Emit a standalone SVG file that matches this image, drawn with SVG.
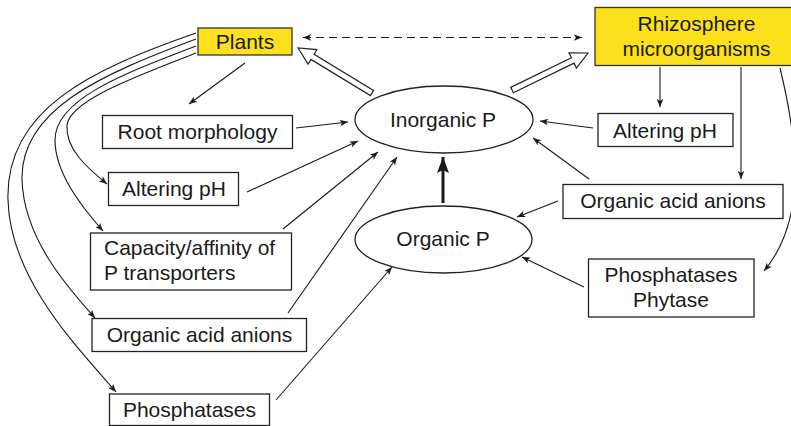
<svg xmlns="http://www.w3.org/2000/svg" width="791" height="426" viewBox="0 0 791 426">
<defs>
<style>
.box{fill:#fff;stroke:#222;stroke-width:1.3}
.yel{fill:#FCE01B;stroke:#333;stroke-width:1.3}
.ell{fill:#fff;stroke:#222;stroke-width:1.3}
.t{font-family:"Liberation Sans",Arial,sans-serif;font-size:21px;fill:#1a1a1a;text-anchor:middle}
.tl{font-family:"Liberation Sans",Arial,sans-serif;font-size:21px;fill:#1a1a1a;text-anchor:start}
.c{fill:none;stroke:#1a1a1a;stroke-width:1.1;marker-end:url(#ah)}
.blk{fill:#fff;stroke:#222;stroke-width:1.2;stroke-linejoin:miter}
</style>
<marker id="ah" viewBox="0 0 10 8" refX="10" refY="4" markerWidth="9" markerHeight="6.5" markerUnits="userSpaceOnUse" orient="auto-start-reverse">
<path d="M0,0 L10,4 L0,8 L2.5,4 z" fill="#1a1a1a"/>
</marker>
<marker id="thick" viewBox="0 0 16 12" refX="16" refY="6" markerWidth="16" markerHeight="12" markerUnits="userSpaceOnUse" orient="auto">
<path d="M0,0 L16,6 L0,12 L3,6 z" fill="#1a1a1a"/>
</marker>
</defs>

<g id="connectors">
<path class="c" d="M196,53 C140,75 70,100 67,125 C65,150 90,170 107,184"/>
<path class="c" d="M196,46 C120,75 55,100 55,140 C55,172 80,205 103,231"/>
<path class="c" d="M196,39 C100,75 20,110 22,180 C24,240 70,290 95,318"/>
<path class="c" d="M196,33 C90,70 5,110 8,200 C10,280 80,350 116,392"/>
<path class="c" d="M245,63 L189,104"/>
<path class="c" d="M296,128 L348,122"/>
<path class="c" d="M247,192 L358,141"/>
<path class="c" d="M283,229 L378,152"/>
<path class="c" d="M288,313 L397,157"/>
<path class="c" d="M276,400 L392,267"/>
<path d="M443,203 L443,157" fill="none" stroke="#1a1a1a" stroke-width="3" marker-end="url(#thick)"/>
<path class="c" d="M660,67 L660,107"/>
<path class="c" d="M741,67 L741,179"/>
<path class="c" d="M780,68 C800,150 805,222 764,271"/>
<path class="c" d="M593,128 L540,121"/>
<path class="c" d="M589,179 L533,138"/>
<path class="c" d="M558,201 L517,217"/>
<path class="c" d="M584,287 L522,257"/>
<path d="M303,37.5 L582,37.5" fill="none" stroke="#1a1a1a" stroke-width="1.1" stroke-dasharray="8,5" marker-start="url(#ah)" marker-end="url(#ah)"/>
<polygon class="blk" transform="translate(298,48) rotate(211.3)" points="0,0 -17,-8.5 -17,-3 -86.6,-3 -86.6,3 -17,3 -17,8.5"/>
<polygon class="blk" transform="translate(588,53) rotate(-26)" points="0,0 -17,-8.5 -17,-3 -84.5,-3 -84.5,3 -17,3 -17,8.5"/>
</g>

<g id="plants">
<rect class="yel" x="198" y="28" width="94" height="27"/>
<text class="t" x="245" y="49">Plants</text>
</g>
<g id="rhizosphere">
<rect class="yel" x="595" y="7.5" width="200" height="58"/>
<text class="t" x="696.5" y="31">Rhizosphere</text>
<text class="t" x="696.5" y="56">microorganisms</text>
</g>
<g id="root-morphology">
<rect class="box" x="102.5" y="115.5" width="190" height="33"/>
<text class="t" x="197.5" y="139">Root morphology</text>
</g>
<g id="altering-ph-plants">
<rect class="box" x="108.5" y="172.5" width="130" height="33"/>
<text class="t" x="174" y="196">Altering pH</text>
</g>
<g id="capacity">
<rect class="box" x="90.5" y="233" width="201" height="57"/>
<text class="tl" x="104" y="255">Capacity/affinity of</text>
<text class="tl" x="104" y="280">P transporters</text>
</g>
<g id="organic-acid-plants">
<rect class="box" x="92" y="318.5" width="214.5" height="33"/>
<text class="t" x="199.5" y="342">Organic acid anions</text>
</g>
<g id="phosphatases-plants">
<rect class="box" x="109.5" y="394" width="160" height="31.5"/>
<text class="t" x="189.5" y="417">Phosphatases</text>
</g>
<g id="inorganic-p">
<ellipse class="ell" cx="444" cy="119.5" rx="89" ry="33.5"/>
<text class="t" x="443" y="127">Inorganic P</text>
</g>
<g id="organic-p">
<ellipse class="ell" cx="443.5" cy="239.5" rx="88.5" ry="33.5"/>
<text class="t" x="443" y="246">Organic P</text>
</g>
<g id="altering-ph-micro">
<rect class="box" x="598" y="113.5" width="135" height="33"/>
<text class="t" x="665" y="138">Altering pH</text>
</g>
<g id="organic-acid-micro">
<rect class="box" x="563" y="184.5" width="220" height="34"/>
<text class="t" x="673" y="208">Organic acid anions</text>
</g>
<g id="phosphatases-phytase">
<rect class="box" x="588.5" y="259" width="165.5" height="58"/>
<text class="t" x="671" y="282">Phosphatases</text>
<text class="t" x="671" y="307">Phytase</text>
</g>
</svg>
